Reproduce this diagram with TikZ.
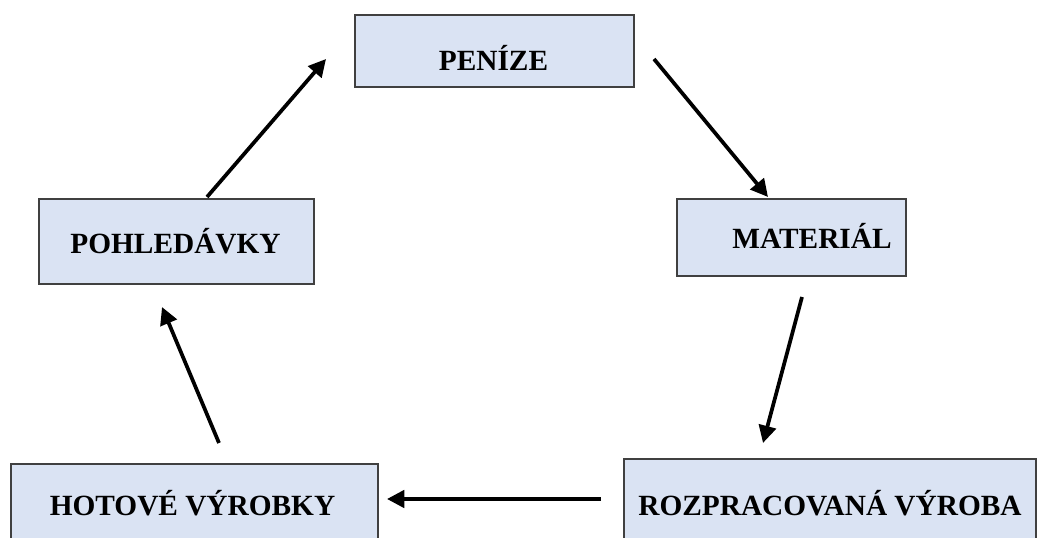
\documentclass[tikz,border=0pt]{standalone}
\usepackage{fontspec}
\setmainfont{Liberation Serif}
\usetikzlibrary{positioning}
\usetikzlibrary{arrows.meta}
\definecolor{boxfill}{HTML}{DAE3F3}
\tikzset{
    mybox/.style = {rectangle, draw=black!75, line width=0.8pt, fill=boxfill, inner sep=0pt},
    mytext/.style = {anchor=base, inner sep=0pt, font=\fontsize{22}{26}\selectfont\bfseries, text=black},
    edgek/.style = {line width=2.8pt, black, -{Triangle[length=13pt,width=13pt]}},
}

\begin{document}
\begin{tikzpicture}[x=0.75pt,y=-0.75pt]
\path[use as bounding box] (0,0) rectangle (1038,538);
\clip (0,0) rectangle (1038,538);

% boxes
\node[mybox, minimum width=279*0.75pt, minimum height=72*0.75pt] at (494.5,51) (peni) {};
\node[mybox, minimum width=229*0.75pt, minimum height=77*0.75pt] at (791.5,237.5) (mat) {};
\node[mybox, minimum width=275*0.75pt, minimum height=85*0.75pt] at (176.5,241.5) (pohl) {};
\node[mybox, minimum width=367*0.75pt, minimum height=90*0.75pt] at (194.5,509) (hot) {};
\node[mybox, minimum width=412*0.75pt, minimum height=95*0.75pt] at (830,506.5) (rozp) {};
%
\node[mytext] at (493.5,71) (peni-t) {PENÍZE};
\node[mytext] at (812,248) (mat-t) {MATERIÁL};
\node[mytext] at (175.5,253) (pohl-t) {POHLEDÁVKY};
\node[mytext] at (192.5,515) (hot-t) {HOTOVÉ VÝROBKY};
\node[mytext] at (830,515) (rozp-t) {ROZPRACOVANÁ VÝROBA};

% arrow ends
\coordinate (a1) at (654,59);
\coordinate (b1) at (768,197);
\coordinate (a2) at (802,297);
\coordinate (b2) at (763,443);
\coordinate (a3) at (601,499);
\coordinate (b3) at (387,499);
\coordinate (a4) at (219,443);
\coordinate (b4) at (162,307);
\coordinate (a5) at (207,197);
\coordinate (b5) at (326,59);

\draw[edgek] (a1) -- (b1);
\draw[edgek] (a2) -- (b2);
\draw[edgek] (a3) -- (b3);
\draw[edgek] (a4) -- (b4);
\draw[edgek] (a5) -- (b5);

\end{tikzpicture}
\end{document}
